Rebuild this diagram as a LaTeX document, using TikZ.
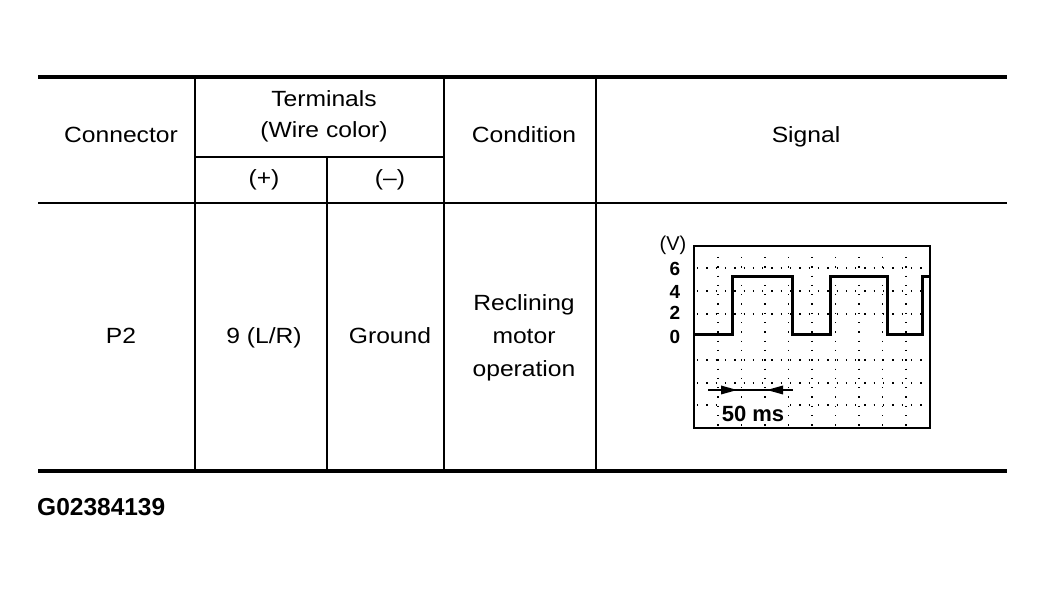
\documentclass[tikz,border=0pt]{standalone}
\usepackage{fontspec}
\setmainfont{Liberation Sans}[FakeStretch=1.12]
\newfontfamily\labfont{Liberation Sans}
\begin{document}
\begin{tikzpicture}[x=1pt,y=-1pt,
  txt/.style={anchor=base,inner sep=0pt,font=\fontsize{22}{26}\selectfont},
  axl/.style={anchor=center,inner sep=0pt,font=\labfont\bfseries\fontsize{19}{20}\selectfont},
  thick rule/.style={line width=4pt},
  mid rule/.style={line width=2.3pt},
  vrule/.style={line width=1.5pt},
  griddot/.style={line width=1.3pt,dash pattern=on 1.3pt off 8pt},
  wave/.style={line width=3pt,line join=miter}]
\useasboundingbox (0,0) rectangle (1044,593);
% rules
\coordinate (tl) at (38,77); \coordinate (tr) at (1007,77);
\coordinate (hl) at (38,203); \coordinate (hr) at (1007,203);
\coordinate (bl) at (38,471); \coordinate (br) at (1007,471);
\draw[thick rule] (tl) -- (tr);
\draw[mid rule] (hl) -- (hr);
\draw[thick rule] (bl) -- (br);
\coordinate (v1t) at (195,77); \coordinate (v1b) at (195,471);
\coordinate (v2t) at (327,157); \coordinate (v2b) at (327,471);
\coordinate (v3t) at (444,77); \coordinate (v3b) at (444,471);
\coordinate (v4t) at (596,77); \coordinate (v4b) at (596,471);
\coordinate (sl) at (195,157); \coordinate (sr) at (444,157);
\draw[vrule] (v1t) -- (v1b);
\draw[vrule] (v2t) -- (v2b);
\draw[vrule] (v3t) -- (v3b);
\draw[vrule] (v4t) -- (v4b);
\draw[mid rule] (sl) -- (sr);
% header text
\node[txt] (hconn) at (121,143) {Connector};
\node[txt] (hterm) at (324,107) {Terminals};
\node[txt] (hwire) at (324,138) {(Wire color)};
\node[txt] (hplus) at (264,186) {(+)};
\node[txt] (hminus) at (390,186) {(–)};
\node[txt] (hcond) at (524,143) {Condition};
\node[txt] (hsig) at (806,143) {Signal};
% body text
\node[txt] (p2) at (121,344) {P2};
\node[txt] (nine) at (264,344) {9 (L/R)};
\node[txt] (gnd) at (390,344) {Ground};
\node[txt] (c1) at (524,311) {Reclining};
\node[txt] (c2) at (524,344) {motor};
\node[txt] (c3) at (524,377) {operation};
% graph
\foreach \gx in {718,741.5,765,788.5,812,835.5,859,882.5,906}
  \draw[griddot] (\gx,257) -- (\gx,427);
\foreach \gy in {268,291,314,360,383,405}
  \draw[griddot] (697,\gy) -- (928,\gy);
\node[anchor=base,inner sep=3pt,fill=white,font=\labfont\bfseries\fontsize{22}{24}\selectfont] (ms) at (753,421) {50 ms};
\draw[line width=2pt] (694,246) rectangle (930,428);
\draw[wave] (694,335) -- (732,335) -- (732,277) -- (792,277) -- (792,335)
  -- (830,335) -- (830,277) -- (887,277) -- (887,335) -- (922,335) -- (922,277) -- (929,277);
\node[anchor=center,inner sep=0pt,font=\labfont\fontsize{20}{22}\selectfont] (vl) at (673,245) {(V)};
\node[axl] (y6) at (675,269) {6};
\node[axl] (y4) at (675,292) {4};
\node[axl] (y2) at (675,313) {2};
\node[axl] (y0) at (675,337) {0};
\coordinate (al) at (708,390); \coordinate (ar) at (793,390);
\draw[line width=1.6pt] (al) -- (ar);
\fill (737,390) -- (721,385.5) -- (721,394.5) -- cycle;
\fill (767,390) -- (783,385.5) -- (783,394.5) -- cycle;
% figure label
\node[anchor=base west,inner sep=0pt,font=\labfont\bfseries\fontsize{24.5}{28}\selectfont] (fig) at (37,515) {G02384139};
\end{tikzpicture}
\end{document}
